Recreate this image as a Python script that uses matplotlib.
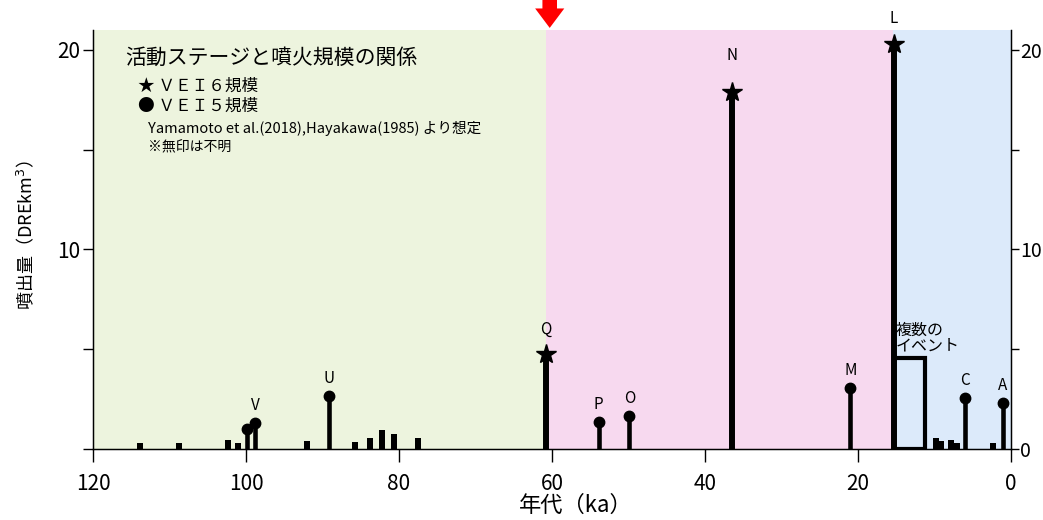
import matplotlib
matplotlib.use("Agg")
import matplotlib.pyplot as plt
import numpy as np

plt.rcParams['font.family'] = ['Liberation Sans Narrow', 'Noto Sans CJK JP', 'DejaVu Sans']
CJK = ['Noto Sans CJK JP', 'DejaVu Sans']

# --- data (ka = thousand years ago, volume in DRE km3) ---
stage_edges = [120, 60.8, 15.4, 0]
stage_colors = ['#edf4de', '#f7d9ef', '#dceafa']

star_ka = [60.8, 36.5, 15.3]
star_vol = [4.75, 17.9, 20.3]
star_names = ['Q', 'N', 'L']

circ_ka = [99.9, 98.8, 89.1, 53.9, 49.9, 21.0, 6.0, 1.1]
circ_vol = [1.0, 1.3, 2.65, 1.37, 1.65, 3.04, 2.57, 2.29]
circ_names = ['', 'V', 'U', 'P', 'O', 'M', 'C', 'A']

small_ka = [113.9, 108.8, 102.3, 101.0, 92.0, 85.7, 83.8, 82.2, 80.7, 77.5,
            9.8, 9.1, 7.8, 7.1, 2.4]
small_vol = [0.32, 0.29, 0.47, 0.29, 0.38, 0.34, 0.53, 0.93, 0.73, 0.53,
             0.57, 0.42, 0.45, 0.29, 0.32]

multi_ka = (15.3, 11.2)   # start, end of the "multiple events" box
multi_vol = 4.55

arrow_ka = 60.3

fig = plt.figure(figsize=(10.43, 5.2), dpi=100)
ax = fig.add_axes([0.0892, 0.1365, 0.8801, 0.8058])

# stage backgrounds
for (a, b), c in zip(zip(stage_edges[:-1], stage_edges[1:]), stage_colors):
    ax.axvspan(a, b, color=c, lw=0, zorder=0)

# unknown-size eruptions
ax.bar(small_ka, small_vol, width=0.8, color='black', zorder=3)

# VEI5 circles
ax.vlines(circ_ka, 0, circ_vol, color='black', lw=3.3, zorder=3)
ax.plot(circ_ka, circ_vol, 'o', color='black', ms=7.5, zorder=4)
for x, y, s in zip(circ_ka, circ_vol, circ_names):
    if s:
        ax.annotate(s, (x, y), xytext=(0, 6.5), textcoords='offset points',
                    ha='center', va='bottom', fontsize=11, annotation_clip=False)

# VEI6 stars
ax.vlines(star_ka, 0, star_vol, color='black', lw=4.3, zorder=3)
ax.plot(star_ka, star_vol, '*', color='black', ms=15, zorder=4)
for x, y, s in zip(star_ka, star_vol, star_names):
    off = 20 if s == 'N' else 12
    ax.annotate(s, (x, y), xytext=(0, off), textcoords='offset points',
                ha='center', va='bottom', fontsize=11, annotation_clip=False)

# multiple events box
ax.bar((multi_ka[0] + multi_ka[1]) / 2, multi_vol, width=multi_ka[0] - multi_ka[1],
       fill=False, edgecolor='black', lw=3, zorder=3)
ax.text(multi_ka[0] - 0.2, multi_vol + 0.2, '複数の\nイベント', family=CJK,
        fontsize=11.5, ha='left', va='bottom', linespacing=0.85)

# axes
ax.set_xlim(120, 0)
ax.set_ylim(0, 21)
ax.set_xticks([120, 100, 80, 60, 40, 20, 0])
ax.tick_params(axis='x', length=9, width=1, labelsize=15, pad=8)
ax.set_yticks([0, 5, 10, 15, 20])
ax.set_yticklabels(['', '', '10', '', '20'])
ax.tick_params(axis='y', length=7, width=1, labelsize=15, pad=2)
ax.spines['top'].set_visible(False)
for s in ['left', 'right', 'bottom']:
    ax.spines[s].set_linewidth(1)

ax2 = ax.twinx()
ax2.set_ylim(0, 21)
ax2.set_yticks([0, 5, 10, 15, 20])
ax2.set_yticklabels(['0', '', '10', '', '20'])
ax2.tick_params(axis='y', length=6, width=1, labelsize=14, pad=0.5)
ax2.spines['top'].set_visible(False)

ax.set_xlabel('年代（ka）', family=CJK, fontsize=16, labelpad=0)
ax.xaxis.set_label_coords(0.526, -0.108)
ax.set_ylabel('噴出量（DREkm$^3$）', family=CJK, fontsize=13)
ax.yaxis.set_label_coords(-0.062, 0.51)

# legend-like annotation
ax.text(0.035, 0.933, '活動ステージと噴火規模の関係', transform=ax.transAxes,
        family=CJK, fontsize=15, va='center', ha='left')
ax.text(0.049, 0.866, '★ ＶＥＩ６規模', transform=ax.transAxes,
        family=CJK, fontsize=12, va='center', ha='left')
ax.text(0.049, 0.818, '● ＶＥＩ５規模', transform=ax.transAxes,
        family=CJK, fontsize=12, va='center', ha='left')
ax.text(0.060, 0.766, 'Yamamoto et al.(2018),Hayakawa(1985) より想定',
        transform=ax.transAxes, fontsize=10.5, va='center', ha='left')
ax.text(0.060, 0.720, '※無印は不明', transform=ax.transAxes,
        family=CJK, fontsize=10, va='center', ha='left')

# red arrow marking stage change
ax.annotate('', xy=(arrow_ka, 1.005), xycoords=('data', 'axes fraction'),
            xytext=(arrow_ka, 1.09), textcoords=('data', 'axes fraction'),
            arrowprops=dict(facecolor='#ff0000', edgecolor='none', width=10.5,
                            headwidth=21, headlength=14, shrink=0),
            annotation_clip=False)

fig.savefig('out.png', dpi=100)
